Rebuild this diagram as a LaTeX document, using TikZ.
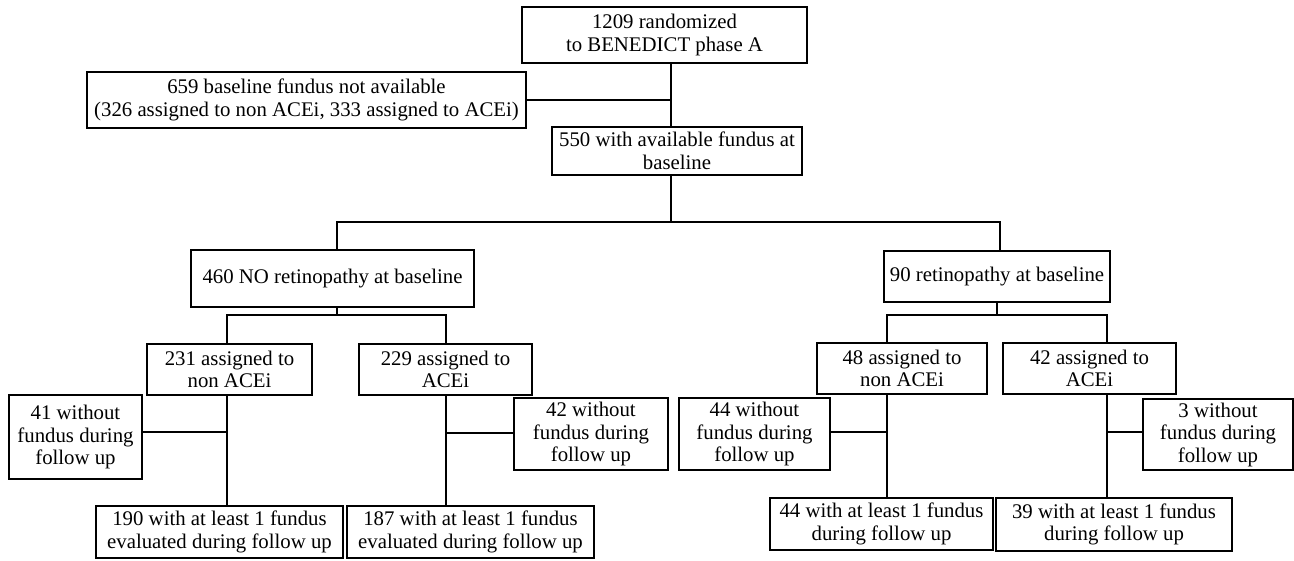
\documentclass[tikz,border=0pt]{standalone}
\usepackage{fontspec}
\setmainfont{Liberation Serif}
\begin{document}
\begin{tikzpicture}[x=1pt,y=-1pt,
  box/.style={draw, line width=1.3pt, align=center, inner sep=0pt, font=\fontsize{20.8}{22.5}\selectfont},
  conn/.style={line width=1.3pt}]
\useasboundingbox (0,0) rectangle (1294,560);
\fill[white] (0,0) rectangle (1294,560);

% boxes
\node[box, minimum width=285pt, minimum height=56pt] (top) at (664.5,35) {1209 randomized\\to BENEDICT phase A};
\node[box, minimum width=439pt, minimum height=56pt] (n659) at (306.5,100) {659 baseline fundus not available\\(326 assigned to non ACEi, 333 assigned to ACEi)};
\node[box, minimum width=250pt, minimum height=48pt] (n550) at (677,151) {550 with available fundus at\\baseline};
\node[box, minimum width=283pt, minimum height=57pt] (n460) at (332.5,278.5) {460 NO retinopathy at baseline};
\node[box, minimum width=226pt, minimum height=51pt] (n90) at (997,276.5) {90 retinopathy at baseline};
\node[box, minimum width=165pt, minimum height=51pt] (n231) at (229.5,369.5) {231 assigned to\\non ACEi};
\node[box, minimum width=173pt, minimum height=51pt] (n229) at (445.5,369.5) {229 assigned to\\ACEi};
\node[box, minimum width=170pt, minimum height=51pt] (n48) at (902,368.5) {48 assigned to\\non ACEi};
\node[box, minimum width=173pt, minimum height=51pt] (n42a) at (1089.5,368.5) {42 assigned to\\ACEi};
\node[box, minimum width=133pt, minimum height=84pt] (n41) at (75.5,437) {41 without\\fundus during\\follow up};
\node[box, minimum width=154pt, minimum height=72pt] (n42w) at (591,434) {42 without\\fundus during\\follow up};
\node[box, minimum width=151pt, minimum height=72pt] (n44w) at (754.5,434) {44 without\\fundus during\\follow up};
\node[box, minimum width=150pt, minimum height=71pt] (n3w) at (1218,434.5) {3 without\\fundus during\\follow up};
\node[box, minimum width=247pt, minimum height=52pt] (n190) at (219.5,532) {190 with at least 1 fundus\\evaluated during follow up};
\node[box, minimum width=247pt, minimum height=52pt] (n187) at (470.5,532) {187 with at least 1 fundus\\evaluated during follow up};
\node[box, minimum width=223pt, minimum height=52pt] (n44) at (881.5,524) {44 with at least 1 fundus\\during follow up};
\node[box, minimum width=236pt, minimum height=53pt] (n39) at (1114,524.5) {39 with at least 1 fundus\\during follow up};

% junction coordinates
\coordinate (j1) at (671,100);
\coordinate (b1) at (671,222);
\coordinate (b1L) at (337,222);
\coordinate (b1R) at (1000,222);
\coordinate (b2) at (337,315);
\coordinate (b2L) at (227,315);
\coordinate (b2R) at (446,315);
\coordinate (b3) at (997,315);
\coordinate (b3L) at (887,315);
\coordinate (b3R) at (1107,315);
\coordinate (k1) at (227,432);
\coordinate (k2) at (446,433);
\coordinate (k3) at (887,432);
\coordinate (k4) at (1107,432);

% connectors
\draw[conn] (top.south -| j1) -- (n550.north -| j1);
\draw[conn] (n659.east |- j1) -- (j1);
\draw[conn] (n550.south -| b1) -- (b1);
\draw[conn] (n460.north -| b1L) -- (b1L) -- (b1R) -- (n90.north -| b1R);
\draw[conn] (n460.south -| b2) -- (b2);
\draw[conn] (n231.north -| b2L) -- (b2L) -- (b2R) -- (n229.north -| b2R);
\draw[conn] (n90.south -| b3) -- (b3);
\draw[conn] (n48.north -| b3L) -- (b3L) -- (b3R) -- (n42a.north -| b3R);
\draw[conn] (n231.south -| k1) -- (n190.north -| k1);
\draw[conn] (n41.east |- k1) -- (k1);
\draw[conn] (n229.south -| k2) -- (n187.north -| k2);
\draw[conn] (k2) -- (n42w.west |- k2);
\draw[conn] (n48.south -| k3) -- (n44.north -| k3);
\draw[conn] (n44w.east |- k3) -- (k3);
\draw[conn] (n42a.south -| k4) -- (n39.north -| k4);
\draw[conn] (k4) -- (n3w.west |- k4);
\end{tikzpicture}
\end{document}
